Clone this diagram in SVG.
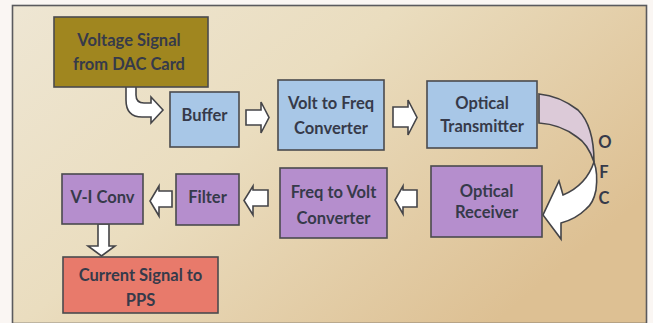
<svg xmlns="http://www.w3.org/2000/svg" width="653" height="323" viewBox="0 0 653 323">
<defs>
<linearGradient id="bg" x1="0" y1="0" x2="1" y2="0.6">
<stop offset="0" stop-color="#eee6d3"/>
<stop offset="0.45" stop-color="#eaddbf"/>
<stop offset="1" stop-color="#ddc093"/>
</linearGradient>
<style>
.box{stroke:#4a4a4e;stroke-width:1.6}
.t{font-family:Lato,"Open Sans","Liberation Sans",sans-serif;font-weight:bold;font-size:16.5px;fill:#363a4a;text-anchor:middle;dominant-baseline:central}
.arr{fill:#ffffff;stroke:#444448;stroke-width:1.6;stroke-linejoin:miter}
.olive{fill:#a0861f}
.blue{fill:#a8c7e7}
.purple{fill:#b58ecd}
.salmon{fill:#e87a6b}
</style>
</defs>
<rect x="0" y="0" width="653" height="323" fill="#faf6f3"/>
<rect x="12.5" y="5.5" width="634" height="318" fill="url(#bg)" stroke="#5a5a5e" stroke-width="1.6"/>

<g id="connectors">
<path class="arr" d="M126,80 L136,80 L136,95 Q136,103 144,103 L151,103 L151,97 L163,110 L151,123 L151,117 L142,117 Q126,117 126,100 Z"/>
<path class="arr" d="M246,110 L261,110 L261,102 L269,117.5 L261,133 L261,125 L246,125 Z"/>
<path class="arr" d="M393,107 L408,107 L408,100 L417,117.5 L408,135 L408,127 L393,127 Z"/>
<path fill="#dccad8" stroke="#444448" stroke-width="1.6" d="M539,94 C550,95 565,100 578,110 C588,120 594,135 594,162 C590,150 585,142 577,137 C568,130 555,124 539,123 Z"/>
<path class="arr" d="M594,162 C597,170 597,182 596,190 C594,200 590,206 586,209 C580,215 572,220 561,223 L561,239 L543,215 L559,181 L563,195 C575,190 588,180 594,162 Z"/>
<path class="arr" d="M417,190 L403,190 L403,186 L395,200 L403,214 L403,207 L417,207 Z"/>
<path class="arr" d="M268,190 L253,190 L253,186 L244,200.5 L253,215 L253,206 L268,206 Z"/>
<path class="arr" d="M172,191 L159,191 L159,186 L150,201 L159,216 L159,207 L172,207 Z"/>
<path class="arr" d="M98,224 L109,224 L109,246 L115,246 L101.5,256 L88,246 L98,246 Z"/>
</g>

<g id="ofc-label">
<text class="t" x="605" y="142">O</text>
<text class="t" x="604" y="172">F</text>
<text class="t" x="604" y="198">C</text>
</g>

<g id="voltage-signal">
<rect class="box olive" x="54" y="17" width="154" height="70"/>
<text class="t" x="129" y="40">Voltage Signal</text>
<text class="t" x="129" y="64">from DAC Card</text>
</g>
<g id="buffer">
<rect class="box blue" x="170" y="92" width="69" height="55"/>
<text class="t" x="204.5" y="115">Buffer</text>
</g>
<g id="volt-to-freq">
<rect class="box blue" x="278" y="80" width="106" height="70"/>
<text class="t" x="331" y="103">Volt to Freq</text>
<text class="t" x="331" y="128">Converter</text>
</g>
<g id="optical-transmitter">
<rect class="box blue" x="427" y="81" width="110" height="67"/>
<text class="t" x="482" y="103">Optical</text>
<text class="t" x="482" y="126">Transmitter</text>
</g>
<g id="optical-receiver">
<rect class="box purple" x="431" y="166" width="111" height="71"/>
<text class="t" x="486.5" y="191">Optical</text>
<text class="t" x="486.5" y="212">Receiver</text>
</g>
<g id="freq-to-volt">
<rect class="box purple" x="280" y="168" width="107" height="70"/>
<text class="t" x="333.5" y="192">Freq  to Volt</text>
<text class="t" x="333.5" y="218">Converter</text>
</g>
<g id="filter">
<rect class="box purple" x="176" y="174" width="63" height="51"/>
<text class="t" x="207.5" y="197">Filter</text>
</g>
<g id="v-i-conv">
<rect class="box purple" x="62" y="174" width="81" height="50"/>
<text class="t" x="102.5" y="197">V-I Conv</text>
</g>
<g id="current-signal">
<rect class="box salmon" x="63" y="257" width="155" height="56"/>
<text class="t" x="140.5" y="275">Current Signal to</text>
<text class="t" x="140.5" y="300">PPS</text>
</g>
</svg>
